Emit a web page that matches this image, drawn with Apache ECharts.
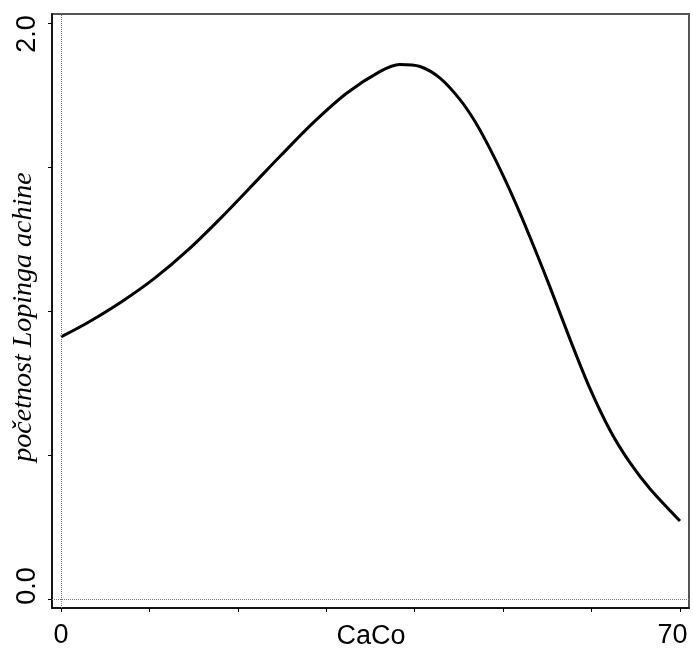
<!DOCTYPE html>
<html>
<head>
<meta charset="utf-8">
<script src="https://cdn.jsdelivr.net/npm/echarts@6/dist/echarts.min.js"></script>
<style>html,body{margin:0;padding:0;background:#fff}#chart{width:693px;height:653px}</style>
</head>
<body>
<div id="chart"></div>
<script>
// CaCo values and fitted abundance
const caco = [0, 3.05, 6.9, 10.6, 14.4, 18.2, 22.3, 24.8, 28.5, 32.3, 36.1, 38.3, 40.6, 42.9, 45.1, 46.8, 48.5, 50.2, 51.9, 53.4, 55.3, 57.6, 59.8, 62.1, 64.3, 66.6, 70];
const abundance = [0.910, 0.960, 1.033, 1.114, 1.213, 1.327, 1.458, 1.538, 1.653, 1.756, 1.832, 1.856, 1.849, 1.808, 1.735, 1.659, 1.564, 1.457, 1.340, 1.229, 1.083, 0.899, 0.732, 0.585, 0.475, 0.383, 0.271];
const xTicks = [0, 10, 20, 30, 40, 50, 60, 70];
const xTickLabels = [0, 70];
const yTicks = [0, 0.5, 1, 1.5, 2];
const yTickLabels = [0, 2];
const xName = 'CaCo';
const yName = 'početnost Lopinga achine';

const chart = echarts.init(document.getElementById('chart'), null, {renderer: 'canvas'});
chart.setOption({
  animation: false,
  backgroundColor: '#fff',
  grid: {left: 52, top: 14, right: 4, bottom: 45, show: true, borderColor: '#555', borderWidth: 2, backgroundColor: 'transparent',
    containLabel: false, outerBoundsMode: 'none'},
  xAxis: {
    type: 'value', min: -1.018, max: 71.018,
    axisLine: {show: true, onZero: false, lineStyle: {color: '#000', width: 1.5}},
    axisTick: {show: true, inside: false, length: 4, customValues: xTicks, lineStyle: {color: '#000', width: 1}},
    axisLabel: {customValues: xTickLabels, fontFamily: 'Liberation Sans', fontSize: 27, color: '#000', margin: 14,
      formatter: v => v === 70 ? '{r|70}' : '{c|' + v + '}',
      rich: {
        r: {fontFamily: 'Liberation Sans', fontSize: 27, color: '#000', padding: [0, 15, 0, 0]},
        c: {fontFamily: 'Liberation Sans', fontSize: 27, color: '#000'}
      }},
    splitLine: {show: false}
  },
  yAxis: {
    type: 'value', min: -0.03125, max: 2.03125,
    axisLine: {show: true, onZero: false, lineStyle: {color: '#000', width: 1.5}},
    axisTick: {show: true, inside: false, length: 4, customValues: yTicks, lineStyle: {color: '#000', width: 1}},
    axisLabel: {customValues: yTickLabels, rotate: 90, fontFamily: 'Liberation Sans', fontSize: 27, color: '#000', margin: 11,
      formatter: v => v === 2 ? '{t|2.0}' : '{b|0.0}',
      rich: {
        t: {fontFamily: 'Liberation Sans', fontSize: 27, color: '#000', padding: [0, 22, 0, 0]},
        b: {fontFamily: 'Liberation Sans', fontSize: 27, color: '#000', padding: [0, 0, 0, 26]}
      }},
    splitLine: {show: false}
  },
  graphic: [{
    type: 'text', x: 24, y: 317, rotation: Math.PI / 2,
    style: {text: yName, fontFamily: 'Liberation Serif', fontStyle: 'italic', fontSize: 28, fill: '#000', align: 'center', verticalAlign: 'middle'}
  }, {
    type: 'text', x: 371, y: 637,
    style: {text: xName, fontFamily: 'Liberation Sans', fontSize: 27, fill: '#000', align: 'center', verticalAlign: 'middle'}
  }],
  series: [{
    type: 'line',
    data: caco.map((x, i) => [x, abundance[i]]),
    smooth: 0.3, showSymbol: false, symbol: 'none',
    lineStyle: {color: '#000', width: 3},
    markLine: {
      silent: true, symbol: 'none', label: {show: false},
      lineStyle: {type: 'dotted', color: '#777', width: 1},
      data: [{xAxis: 0}, {yAxis: 0}]
    }
  }]
});
</script>
</body>
</html>
